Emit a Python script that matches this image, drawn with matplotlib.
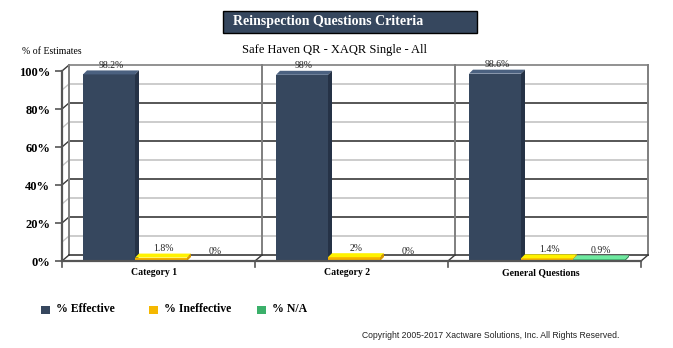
import numpy as np
import matplotlib.pyplot as plt
from matplotlib.patches import Polygon, Rectangle
import matplotlib.transforms as mtransforms

plt.rcParams['font.family'] = 'Liberation Serif'

# data
categories = ['Category 1', 'Category 2', 'General Questions']
series = ['% Effective', '% Ineffective', '% N/A']
effective = [98.2, 98, 98.6]
ineffective = [1.8, 2, 1.4]
not_applicable = [0, 0, 0.9]
value_labels = [['98.2%', '98%', '98.6%'],
                ['1.8%', '2%', '1.4%'],
                ['0%', '0%', '0.9%']]
yticks = [0, 20, 40, 60, 80, 100]
ytick_labels = ['0%', '20%', '40%', '60%', '80%', '100%']

front_cols = ['#36475e', '#f5b000', '#3cb06c']
top_cols = ['#4b6180', '#fff200', '#6eeaa0']
side_cols = ['#253246', '#d99a00', '#2f8f56']
legend_cols = ['#36475e', '#f5b800', '#3bb06a']

W, H = 673, 348
fig = plt.figure(figsize=(W / 100, H / 100), dpi=100)
x0, x1, y0, y1 = 62, 641, 261, 71   # front plane in pixels
ax = fig.add_axes([x0 / W, (H - y0) / H, (x1 - x0) / W, (y0 - y1) / H])
ax.set_xlim(0, 3)
ax.set_ylim(0, 100)
ax.set_facecolor('none')
for s in ax.spines.values():
    s.set_visible(False)

# pixel -> data units
px_x = 3 / (x1 - x0)
px_y = 100 / (y0 - y1)
wdx, wdy = 7 * px_x, 6 * px_y      # back wall depth
bdx, bdy = 4 * px_x, 4 * px_y      # bar depth

dark = '#3a3a3a'
grey = '#7f7f7f'
light = '#c4c4c4'

# back wall grid + left side wall
for v in range(10, 100, 10):
    c = dark if v % 20 == 0 else light
    ax.plot([wdx, 3 + wdx], [v + wdy, v + wdy], color=c, lw=1.2, clip_on=False, zorder=1)
    ax.plot([0, wdx], [v, v + wdy], color=c, lw=1.0, clip_on=False, zorder=1)
ax.plot([wdx, 3 + wdx], [100 + wdy, 100 + wdy], color=grey, lw=1.2, clip_on=False, zorder=1)
ax.plot([0, wdx], [100, 100 + wdy], color=dark, lw=1.0, clip_on=False, zorder=1)
for i in range(4):
    ax.plot([i + wdx, i + wdx], [wdy, 100 + wdy], color=grey, lw=1.4, clip_on=False, zorder=1)

# floor
ax.plot([wdx, 3 + wdx], [wdy, wdy], color=dark, lw=1.2, clip_on=False, zorder=1)
ax.plot([0, 3], [0, 0], color='#555555', lw=1.6, clip_on=False, zorder=4)
for i in range(4):
    ax.plot([i, i + wdx], [0, wdy], color=dark, lw=1.0, clip_on=False, zorder=1)
    ax.plot([i, i], [0, -6 * px_y], color='#555555', lw=1.2, clip_on=False, zorder=4)
ax.plot([0, 0], [0, 100], color='#555555', lw=1.6, clip_on=False, zorder=4)

# bars
all_vals = [effective, ineffective, not_applicable]
cat_w = 193
bw = 52 / cat_w
for j, vals in enumerate(all_vals):
    xs = np.arange(len(categories)) + (21 + 52 * j) / cat_w
    for x, v, lab in zip(xs, vals, value_labels[j]):
        if v > 0:
            ax.bar(x, v, bw, align='edge', color=front_cols[j], zorder=3, clip_on=False)
            ax.add_patch(Polygon([(x, v), (x + bw, v), (x + bw + bdx, v + bdy), (x + bdx, v + bdy)],
                                 closed=True, fc=top_cols[j], ec='none', zorder=3, clip_on=False))
            ax.add_patch(Polygon([(x + bw, 0), (x + bw, v), (x + bw + bdx, v + bdy), (x + bw + bdx, bdy)],
                                 closed=True, fc=side_cols[j], ec='none', zorder=3, clip_on=False))
        ax.annotate(lab, (x + bw / 2, v), xytext=(2, 9), textcoords='offset pixels',
                    ha='center', va='center', fontsize=7, color='#222222', zorder=5)

# axes ticks
ax.set_yticks(yticks, ytick_labels, fontsize=9, fontweight='bold')
ax.tick_params(axis='y', length=5, width=1.2, color='#555555', pad=3.5)
ax.set_xticks(np.arange(len(categories)) + 0.5, categories, fontsize=7, fontweight='bold')
ax.tick_params(axis='x', length=0, pad=5)
for lab in ax.get_xticklabels():
    lab.set_transform(lab.get_transform() + mtransforms.ScaledTranslation(-4 / 100, 0, fig.dpi_scale_trans))

# title box
fig.add_artist(Rectangle((223 / W, 1 - 33 / H), 254 / W, 22 / H, transform=fig.transFigure,
                         fc='#36475e', ec='black', lw=1))
fig.text(233 / W, 1 - 21.5 / H, 'Reinspection Questions Criteria', ha='left', va='center',
         color='white', fontsize=10, fontweight='bold')
fig.text(334 / W, 1 - 49.5 / H, 'Safe Haven QR - XAQR Single - All', ha='center', va='center', fontsize=9)
fig.text(22 / W, 1 - 51 / H, '% of Estimates', ha='left', va='center', fontsize=7)

# legend
leg_x = [41, 149, 257]
for lx, c, l in zip(leg_x, legend_cols, series):
    fig.add_artist(Rectangle((lx / W, 1 - 314 / H), 8.5 / W, 8.5 / H, transform=fig.transFigure,
                             fc=c, ec='none'))
    fig.text((lx + 15) / W, 1 - 309.5 / H, l, ha='left', va='center', fontsize=8.5, fontweight='bold')

fig.text(619 / W, 1 - 335 / H, 'Copyright 2005-2017 Xactware Solutions, Inc. All Rights Reserved.',
         ha='right', va='center', fontsize=6.2, family='Liberation Sans', color='#222222')

fig.savefig('out.png', dpi=100)
